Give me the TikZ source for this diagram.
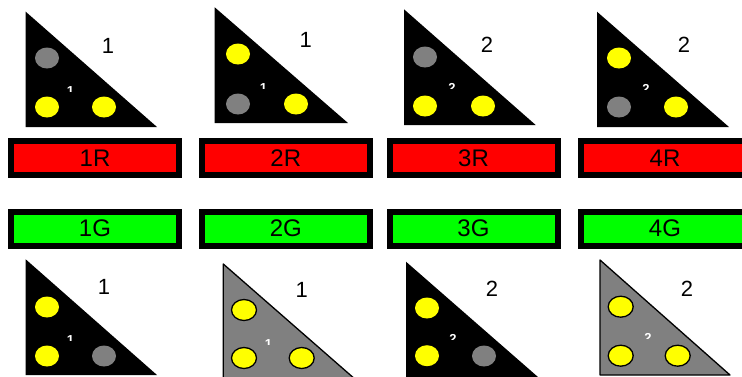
\documentclass[tikz,border=0pt]{standalone}
\usepackage{fontspec}
\setmainfont{Liberation Sans}
\definecolor{sigyellow}{RGB}{255,255,0}
\definecolor{siggray}{RGB}{128,128,128}
\definecolor{btnred}{RGB}{255,0,0}
\definecolor{btngreen}{RGB}{0,255,0}
\begin{document}
\begin{tikzpicture}[x=1pt,y=-1pt,
  btn/.style={draw=black, line width=6pt, minimum width=168pt, minimum height=34pt, inner sep=0pt, font=\fontsize{24}{24}\selectfont},
  headblack/.style={fill=black},
  headgray/.style={fill=siggray, draw=black, line width=1.3pt, line join=round},
  lampon/.style={fill=sigyellow},
  lampoff/.style={fill=siggray},
  lamprim/.style={fill=sigyellow, draw=black, line width=1.3pt},
  numlbl/.style={font=\fontsize{22}{22}\selectfont, inner sep=0pt},
  tinylbl/.style={text=white, font=\fontsize{13}{13}\selectfont\bfseries, inner sep=0pt}]
\useasboundingbox (0,0) rectangle (742,376);
\clip (0,0) rectangle (742,376);
% ---------- top row signals ----------
% 1
\path[headblack] (25.7,11.7) -- (25.7,127) -- (157,127) -- cycle;
\node[numlbl] (t1) at (108,46) {1};
\path[lampoff] (47,58) ellipse [x radius=12pt, y radius=10.5pt];
\path[lampon] (47,107) ellipse [x radius=12pt, y radius=10.5pt];
\path[lampon] (104,107) ellipse [x radius=12pt, y radius=10.5pt];
\begin{scope}\clip (63,84) rectangle (80,91);\node[tinylbl] (m1) at (70.5,90.6) {1};\end{scope}
% 2
\path[headblack] (214.7,7.3) -- (214.7,123) -- (348,123) -- cycle;
\node[numlbl] (t2) at (305.7,40) {1};
\path[lampon] (238,54) ellipse [x radius=12pt, y radius=10.5pt];
\path[lampoff] (238,104) ellipse [x radius=12pt, y radius=10.5pt];
\path[lampon] (296,104) ellipse [x radius=12pt, y radius=10.5pt];
\begin{scope}\clip (256,80) rectangle (274,88);\node[tinylbl] (m2) at (263.5,87.6) {1};\end{scope}
% 3
\path[headblack] (404,9.3) -- (404,125) -- (535.7,125) -- cycle;
\node[numlbl] (t3) at (487,45) {2};
\path[lampoff] (425,57) ellipse [x radius=12pt, y radius=10.5pt];
\path[lampon] (425,106) ellipse [x radius=12pt, y radius=10.5pt];
\path[lampon] (483,106) ellipse [x radius=12pt, y radius=10.5pt];
\begin{scope}\clip (442,81) rectangle (460,88.5);\node[tinylbl] (m3) at (452,88) {2};\end{scope}
% 4
\path[headblack] (597,11.7) -- (597,127) -- (729,127) -- cycle;
\node[numlbl] (t4) at (684,45) {2};
\path[lampon] (619,58) ellipse [x radius=12pt, y radius=10.5pt];
\path[lampoff] (619,107) ellipse [x radius=12pt, y radius=10.5pt];
\path[lampon] (676,107) ellipse [x radius=12pt, y radius=10.5pt];
\begin{scope}\clip (636,82) rectangle (654,89.5);\node[tinylbl] (m4) at (646,89) {2};\end{scope}
% ---------- buttons ----------
\node[btn, fill=btnred] (b1r) at (95,158) {1R};
\node[btn, fill=btnred] (b2r) at (285.8,158) {2R};
\node[btn, fill=btnred] (b3r) at (473.5,158) {3R};
\node[btn, fill=btnred] (b4r) at (665,158) {4R};
\node[btn, fill=btngreen] (b1g) at (95,228.5) {1G};
\node[btn, fill=btngreen] (b2g) at (285.8,228.5) {2G};
\node[btn, fill=btngreen] (b3g) at (473.5,228.5) {3G};
\node[btn, fill=btngreen] (b4g) at (665,228.5) {4G};
% ---------- bottom row signals ----------
% 5
\path[headblack] (25.7,259.3) -- (25.7,375) -- (157,375) -- cycle;
\node[numlbl] (t5) at (104,287) {1};
\path[lampon] (47,307) ellipse [x radius=12pt, y radius=10.5pt];
\path[lampon] (47,356) ellipse [x radius=12pt, y radius=10.5pt];
\path[lampoff] (104,356) ellipse [x radius=12pt, y radius=10.5pt];
\begin{scope}\clip (63,333) rectangle (80,340);\node[tinylbl] (m5) at (70.5,339.6) {1};\end{scope}
% 6
\path[headgray] (223.3,264) -- (223.3,380) -- (356,380) -- cycle;
\node[numlbl] (t6) at (301.7,290) {1};
\path[lamprim] (244,310) ellipse [x radius=12.5pt, y radius=10.5pt];
\path[lamprim] (244,358) ellipse [x radius=12.5pt, y radius=10.5pt];
\path[lamprim] (301.7,358) ellipse [x radius=12.5pt, y radius=10.5pt];
\begin{scope}\clip (261,336) rectangle (279,344);\node[tinylbl] (m6) at (268.5,343.6) {1};\end{scope}
% 7
\path[headblack] (406,261.7) -- (406,377) -- (538,377) -- cycle;
\node[numlbl] (t7) at (492,289) {2};
\path[lampon] (427,308) ellipse [x radius=12pt, y radius=10.5pt];
\path[lampon] (427,355.7) ellipse [x radius=12pt, y radius=10.5pt];
\path[lampoff] (484,356) ellipse [x radius=12pt, y radius=10.5pt];
\begin{scope}\clip (443,332) rectangle (461,339.5);\node[tinylbl] (m7) at (453,339) {2};\end{scope}
% 8
\path[headgray] (600,260) -- (600,375) -- (730,375) -- cycle;
\node[numlbl] (t8) at (687,289) {2};
\path[lamprim] (620.7,306.7) ellipse [x radius=12.5pt, y radius=10.5pt];
\path[lamprim] (620.7,355.7) ellipse [x radius=12.5pt, y radius=10.5pt];
\path[lamprim] (677.7,355.7) ellipse [x radius=12.5pt, y radius=10.5pt];
\begin{scope}\clip (638,331) rectangle (656,338.5);\node[tinylbl] (m8) at (648,338) {2};\end{scope}
\end{tikzpicture}
\end{document}
